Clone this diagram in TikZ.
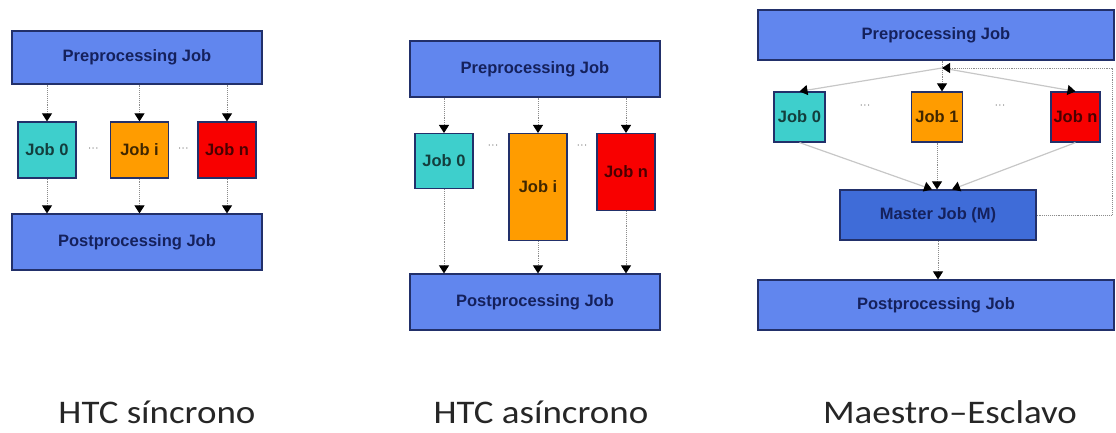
\documentclass[tikz,border=0pt]{standalone}
\usepackage{fontspec}
\setmainfont{Carlito}
\newfontfamily\boxfont{Liberation Sans}
\newfontfamily\capfont[FakeStretch=1.12]{Carlito}
\usepackage{xcolor}
\usetikzlibrary{calc,arrows.meta}
\definecolor{jobbluee}{HTML}{6186EE}
\definecolor{masterbluee}{HTML}{3F6CD8}
\definecolor{bordere}{HTML}{22306A}
\definecolor{boxtexte}{HTML}{15215C}
\definecolor{jobcyan}{HTML}{3ECFCC}
\definecolor{joborange}{HTML}{FF9C00}
\definecolor{jobred}{HTML}{F80000}
\colorlet{jobblue}{jobbluee}
\colorlet{masterblue}{masterbluee}
\colorlet{bordercolor}{bordere}
\colorlet{boxtext}{boxtexte}
\colorlet{linecolor}{black!45}
\tikzstyle{jobbox} =[
    draw=bordercolor,
    line width=1.2pt,
    rectangle,
    inner sep=0pt,
    text=boxtext,
    font=\boxfont\bfseries\fontsize{16.5}{20}\selectfont
    ]
\tikzstyle{widebox} =[
    jobbox,
    fill=jobblue
    ]
\tikzstyle{cyanjob} =[jobbox, fill=jobcyan, text=black!70!jobcyan]
\tikzstyle{orangejob} =[jobbox, fill=joborange, text=black!75!joborange]
\tikzstyle{redjob} =[jobbox, fill=jobred, text=black!70!jobred]
\tikzstyle{arr} =[
    draw=linecolor,
    densely dotted,
    line width=0.9pt,
    -{Triangle[color=black,width=10pt,length=8pt]}
    ]
\tikzstyle{diagarr} =[
    draw=black!22,
    line width=1.2pt,
    -{Triangle[color=black,width=10pt,length=8pt]}
    ]
\tikzstyle{gapdots} =[text=black!50, font=\boxfont\fontsize{11}{12}\selectfont, inner sep=0pt]
\tikzstyle{caption} =[anchor=base, text=black!85, font=\capfont\fontsize{33}{40}\selectfont]

\begin{document}
\begin{tikzpicture}[x=1pt,y=-1pt]
\useasboundingbox (0,0) rectangle (1116,433);

% HTC sincrono
\node[widebox, minimum width=250pt, minimum height=53pt] (pre1) at (137,57.5) {Preprocessing Job};
\node[cyanjob, minimum width=58pt, minimum height=56pt] (j10) at (47,150) {Job 0};
\node[orangejob, minimum width=58pt, minimum height=56pt] (j1i) at (139.5,150) {Job i};
\node[redjob, minimum width=58pt, minimum height=56pt] (j1n) at (227,150) {Job n};
\node[widebox, minimum width=250pt, minimum height=56pt] (post1) at (137,242) {Postprocessing Job};
\foreach \j in {j10,j1i,j1n}{
    \draw[arr] (\j |- pre1.south) -- (\j.north);
    \draw[arr] (\j.south) -- (\j |- post1.north);
}
\node[gapdots] at ($(j10.east)!0.5!(j1i.west)$) {···};
\node[gapdots] at ($(j1i.east)!0.5!(j1n.west)$) {···};

% HTC asincrono
\node[widebox, minimum width=250pt, minimum height=56pt] (pre2) at (535,69) {Preprocessing Job};
\node[cyanjob, anchor=north, minimum width=58pt, minimum height=55pt] (j20) at (444,133) {Job 0};
\node[orangejob, anchor=north, minimum width=58pt, minimum height=107pt] (j2i) at (538,133) {Job i};
\node[redjob, anchor=north, minimum width=58pt, minimum height=77pt] (j2n) at (626,133) {Job n};
\node[widebox, minimum width=250pt, minimum height=56pt] (post2) at (535,302) {Postprocessing Job};
\foreach \j in {j20,j2i,j2n}{
    \draw[arr] (\j |- pre2.south) -- (\j.north);
    \draw[arr] (\j.south) -- (\j |- post2.north);
}
\node[gapdots] at (493,147) {···};
\node[gapdots] at (582,147) {···};

% Maestro-Esclavo
\node[widebox, minimum width=356pt, minimum height=50pt] (pre3) at (936,35) {Preprocessing Job};
\node[cyanjob, minimum width=51pt, minimum height=50pt] (j30) at (799.5,117) {Job 0};
\node[orangejob, minimum width=51pt, minimum height=50pt] (j31) at (937,117) {Job 1};
\node[redjob, minimum width=49pt, minimum height=50pt] (j3n) at (1075.5,117) {Job n};
\node[jobbox, fill=masterblue, minimum width=196pt, minimum height=50pt] (master) at (938,215) {Master Job (M)};
\node[widebox, minimum width=356pt, minimum height=50pt] (post3) at (936,305) {Postprocessing Job};
\coordinate (hub) at (942,68);
\coordinate (loop) at (1112,215);
\draw[draw=linecolor, densely dotted, line width=0.9pt] (hub |- pre3.south) -- (hub);
\draw[diagarr] (hub) -- (j30.north);
\draw[arr] (hub) -- (hub |- j31.north);
\draw[diagarr] (hub) -- (j3n.north);
\draw[diagarr] (j30.south) -- ($(master.north)+(-6,0)$);
\draw[arr] (j31.south) -- (j31 |- master.north);
\draw[diagarr] (j3n.south) -- ($(master.north)+(14,0)$);
\draw[arr] (master.south) -- (master |- post3.north);
\draw[arr] (master.east) -- (loop) -- (loop |- hub) -- (hub);
\node[gapdots] at (865,107) {···};
\node[gapdots] at (1000,107) {···};

% captions
\node[caption] (cap1) at (157,423) {HTC síncrono};
\node[caption] (cap2) at (541,423) {HTC asíncrono};
\node[caption] (cap3) at (950,423) {Maestro–Esclavo};
\end{tikzpicture}
\end{document}
